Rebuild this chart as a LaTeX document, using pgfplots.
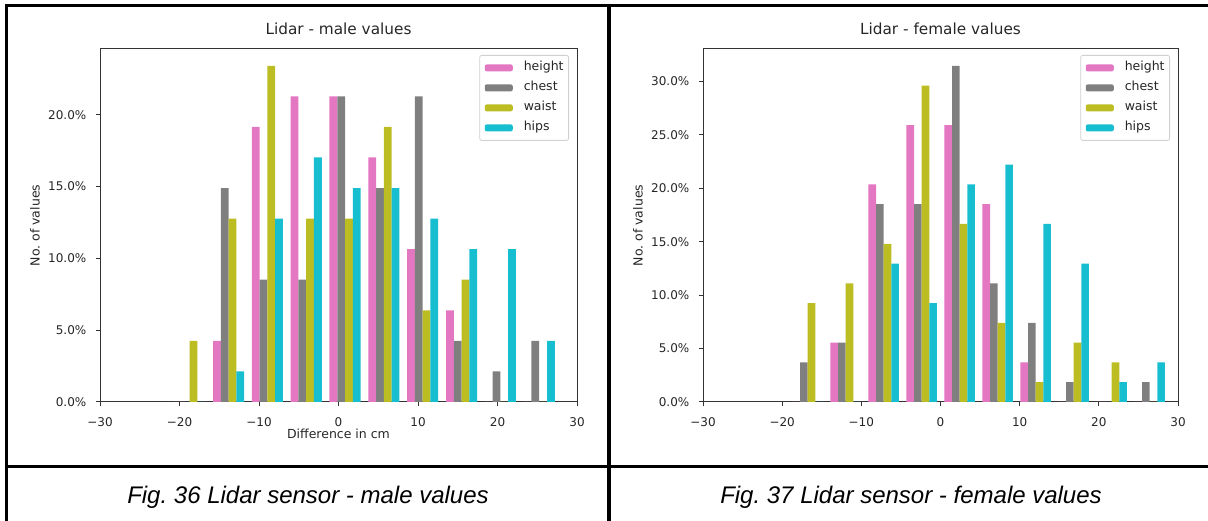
\documentclass[border=0pt]{standalone}
\usepackage{fontspec}
\setmainfont{DejaVu Sans}
\newfontfamily\capfont{Liberation Sans}
\usepackage{pgfplots}
\usepackage{pgfplotstable}
\pgfplotsset{compat=1.18}
\frenchspacing

\definecolor{cheight}{HTML}{E377C2}
\definecolor{cchest}{HTML}{7F7F7F}
\definecolor{cwaist}{HTML}{BCBD22}
\definecolor{chips}{HTML}{17BECF}

% percentage of measurements per bin (bin centre in cm)
\pgfplotstableread{
c      h      ch     w      hp
-18.72 0      0      4.26   0
-13.83 4.26   14.89  12.77  2.13
-8.95  19.15  8.51   23.40  12.77
-4.06  21.28  8.51   12.77  17.02
0.82   21.28  21.28  12.77  14.89
5.71   17.02  14.89  19.15  14.89
10.59  10.64  21.28  6.38   12.77
15.48  6.38   4.26   8.51   10.64
20.36  0      2.13   0      10.64
25.25  0      4.26   0      4.26
}\male

\pgfplotstableread{
c      h      ch     w      hp
-16.78 0      3.70   9.26   0
-11.98 5.56   5.56   11.11  0
-7.18  20.37  18.52  14.81  12.96
-2.38  25.93  18.52  29.63  9.26
2.42   25.93  31.48  16.67  20.37
7.22   18.52  11.11  7.41   22.22
12.02  3.70   7.41   1.85   16.67
16.82  0      1.85   5.56   12.96
21.62  0      0      3.70   1.85
26.42  0      1.85   0      3.70
}\female

\pgfplotsset{
  histo/.style={
    scale only axis,
    anchor=south west,
    xmin=-30, xmax=30,
    ymin=0,
    axis line style={black!80, line width=1pt},
    every tick/.style={black!80, line width=1pt},
    tick align=outside,
    major tick length=4.5pt,
    xtick pos=bottom, ytick pos=left,
    xtick={-30,-20,-10,0,10,20,30},
    xticklabels={−30,−20,−10,0,10,20,30},
    /pgf/number format/assume math mode=true,
    tick label style={font=\fontsize{12}{14}\selectfont, text=black!85},
    xticklabel style={anchor=north, inner sep=0pt, yshift=-11pt},
    yticklabel style={anchor=east, inner sep=0pt, xshift=-9pt},
    title style={at={(0.5,1)}, anchor=base, yshift=8pt,
                 font=\fontsize{15.3}{18}\selectfont, text=black!85},
    label style={font=\fontsize{12.5}{15}\selectfont, text=black!85},
    xlabel style={at={(axis description cs:0.5,0)}, anchor=base, yshift=-37pt},
    ylabel style={at={(axis description cs:0,0.5)}, anchor=center, yshift=65pt},
    legend image code/.code={\fill[##1] (0pt,-3.5pt) rectangle (28pt,3.5pt);},
    legend cell align=left,
    legend style={at={(1,1)}, anchor=north east, xshift=-8pt, yshift=-6pt,
      draw=black!18, rounded corners=2pt, line width=0.8pt,
      inner xsep=5pt, inner ysep=6.5pt, row sep=8pt,
      font=\fontsize{12.5}{15}\selectfont, text=black!85,
      nodes={inner sep=0pt, text height=9pt, text depth=3pt},
      /tikz/every odd column/.append style={column sep=11pt}},
  },
  hbar/.style={ybar, draw=none, bar width=#1},
}

\begin{document}
\begin{tikzpicture}[x=1pt, y=1pt]
\useasboundingbox (0pt,0pt) rectangle (1208pt,521pt);

% table rules
\draw[line width=3.5pt] (6.5pt,0pt) -- (6.5pt,515.5pt);
\draw[line width=3.5pt] (4.75pt,515.5pt) -- (1208pt,515.5pt);
\draw[line width=4pt] (609pt,0pt) -- (609pt,517.25pt);
\draw[line width=3.5pt] (4.75pt,54.5pt) -- (1208pt,54.5pt);

% male histogram
\begin{axis}[histo, at={(100pt,119pt)}, width=477pt, height=353pt,
  ymax=24.57,
  ytick={0,5,10,15,20},
  yticklabels={0.0\%,5.0\%,10.0\%,15.0\%,20.0\%},
  title={Lidar - male values},
  xlabel={Difference in cm},
  ylabel={No. of values}]
\addplot[hbar=0.977, bar shift=-1.4655, fill=cheight] table[x=c, y=h]  {\male};
\addplot[hbar=0.977, bar shift=-0.4885, fill=cchest]  table[x=c, y=ch] {\male};
\addplot[hbar=0.977, bar shift=0.4885,  fill=cwaist]  table[x=c, y=w]  {\male};
\addplot[hbar=0.977, bar shift=1.4655,  fill=chips]   table[x=c, y=hp] {\male};
\legend{height, chest, waist, hips}
\end{axis}

% female histogram
\begin{axis}[histo, at={(703pt,119pt)}, width=475pt, height=353pt,
  ymax=33.05,
  ytick={0,5,10,15,20,25,30},
  yticklabels={0.0\%,5.0\%,10.0\%,15.0\%,20.0\%,25.0\%,30.0\%},
  title={Lidar - female values},
  ylabel={No. of values}]
\addplot[hbar=0.96, bar shift=-1.44, fill=cheight] table[x=c, y=h]  {\female};
\addplot[hbar=0.96, bar shift=-0.48, fill=cchest]  table[x=c, y=ch] {\female};
\addplot[hbar=0.96, bar shift=0.48,  fill=cwaist]  table[x=c, y=w]  {\female};
\addplot[hbar=0.96, bar shift=1.44,  fill=chips]   table[x=c, y=hp] {\female};
\legend{height, chest, waist, hips}
\end{axis}

% captions
\node[anchor=base, font=\capfont\itshape\fontsize{24}{28}\selectfont] at (308pt,17pt)
  {Fig. 36 Lidar sensor - male values};
\node[anchor=base, font=\capfont\itshape\fontsize{24}{28}\selectfont] at (911pt,17pt)
  {Fig. 37 Lidar sensor - female values};
\end{tikzpicture}
\end{document}
